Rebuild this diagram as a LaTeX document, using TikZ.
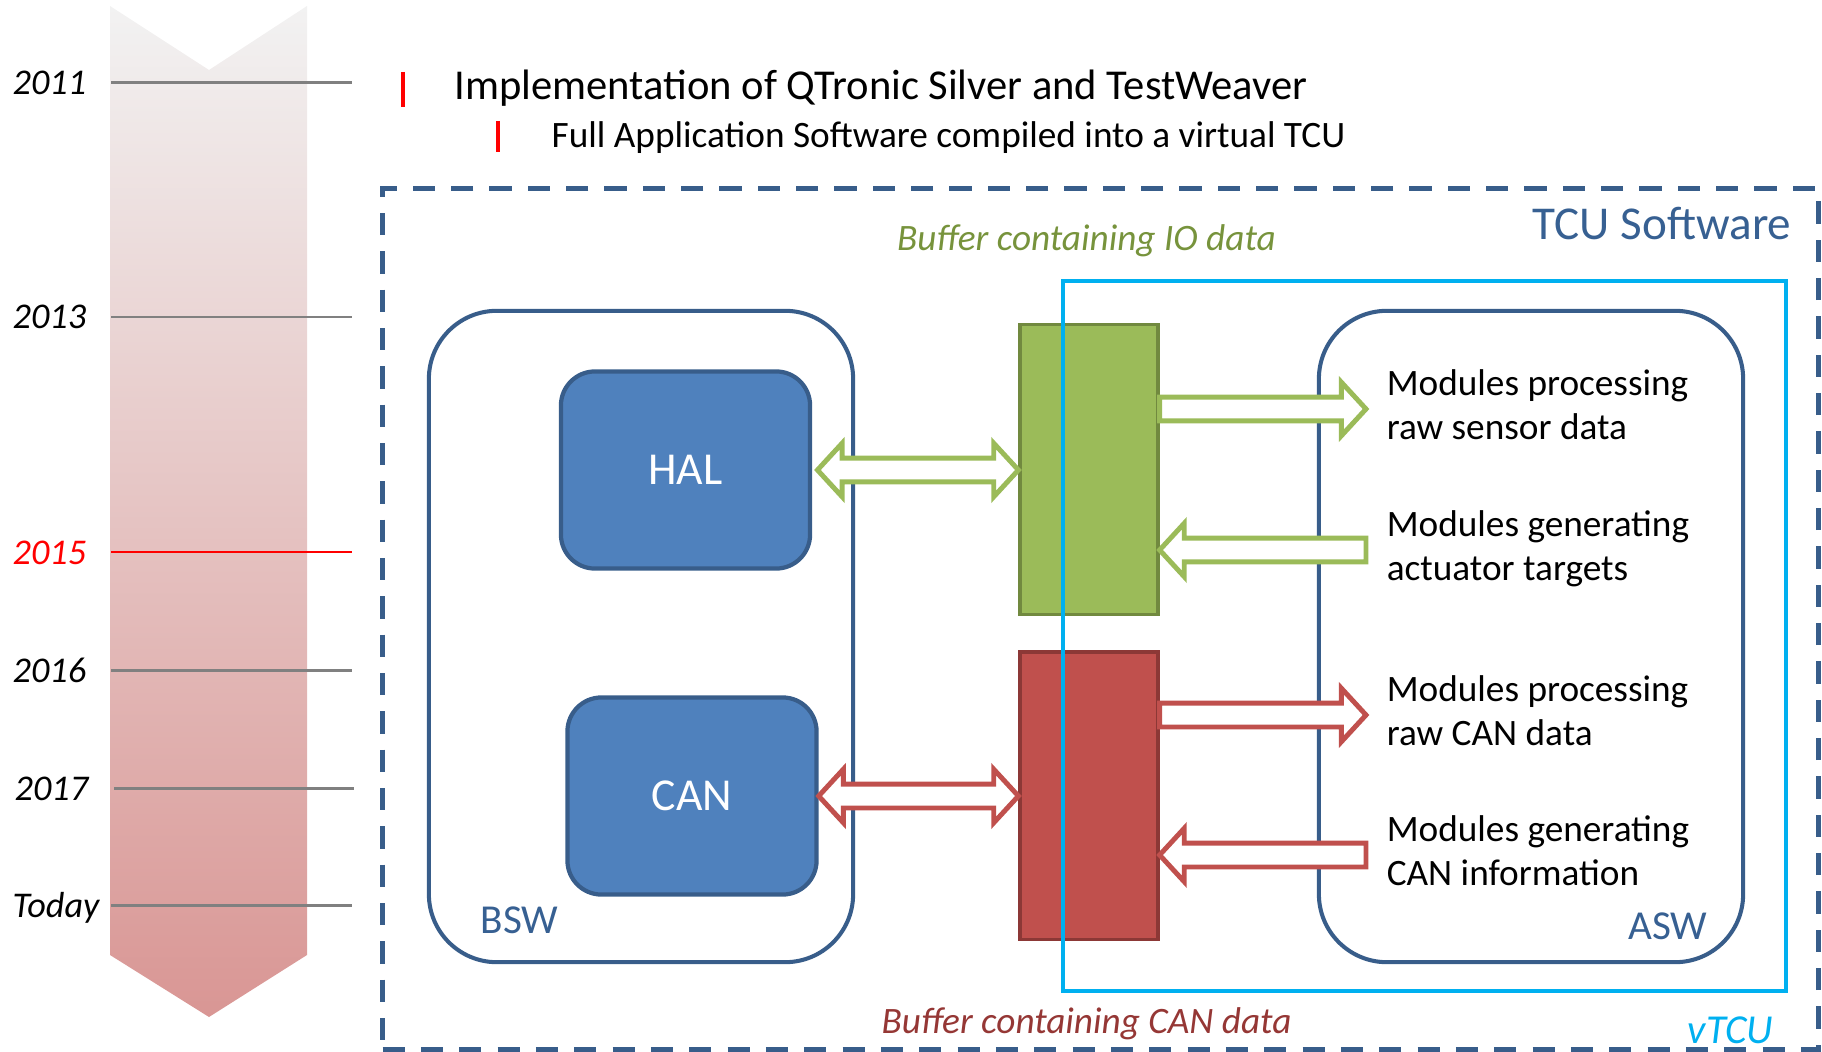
\documentclass[tikz,border=0pt]{standalone}
\usepackage{fontspec}
\setmainfont{Carlito}
\usetikzlibrary{calc,positioning}

\definecolor{tcublue}{RGB}{56,93,138}
\definecolor{tcutext}{RGB}{55,96,146}
\definecolor{halfill}{RGB}{79,129,189}
\definecolor{iogreen}{RGB}{155,187,89}
\definecolor{iogreendark}{RGB}{113,137,63}
\definecolor{iotext}{RGB}{119,147,60}
\definecolor{canred}{RGB}{192,80,77}
\definecolor{canreddark}{RGB}{140,56,54}
\definecolor{cantext}{RGB}{149,55,53}
\definecolor{vtcucyan}{RGB}{0,176,240}
\definecolor{timetop}{RGB}{242,242,242}
\definecolor{timebottom}{RGB}{217,150,148}

\tikzset{
	blockarrow/.style={draw=#1,line width=1.4pt,fill=white,to path={
		let \p1=(\tikztostart),\p2=(\tikztotarget),\n1={ifthenelse(\x2>\x1,-1,1)} in
		(\x1,{\y1+3.4pt}) -- ({\x2+7pt*(\n1)},{\y1+3.4pt}) -- ({\x2+7pt*(\n1)},{\y1+7.6pt}) -- (\x2,\y1)
		-- ({\x2+7pt*(\n1)},{\y1-7.6pt}) -- ({\x2+7pt*(\n1)},{\y1-3.4pt}) -- (\x1,{\y1-3.4pt}) -- cycle}},
	dblockarrow/.style={draw=#1,line width=1.4pt,fill=white,to path={
		let \p1=(\tikztostart),\p2=(\tikztotarget),\n1={ifthenelse(\x2>\x1,-1,1)} in
		(\x1,\y1) -- ({\x1-7pt*(\n1)},{\y1+7.6pt}) -- ({\x1-7pt*(\n1)},{\y1+3.4pt})
		-- ({\x2+7pt*(\n1)},{\y1+3.4pt}) -- ({\x2+7pt*(\n1)},{\y1+7.6pt}) -- (\x2,\y1)
		-- ({\x2+7pt*(\n1)},{\y1-7.6pt}) -- ({\x2+7pt*(\n1)},{\y1-3.4pt})
		-- ({\x1-7pt*(\n1)},{\y1-3.4pt}) -- ({\x1-7pt*(\n1)},{\y1-7.6pt}) -- cycle}},
	yearline/.style={draw=gray,line width=0.85pt},
	modules/.style={anchor=west,inner xsep=5.7pt,inner ysep=0pt,font=\fontsize{10.6}{12.5}\selectfont}
}

\begin{document}
	\begin{tikzpicture}[x=0.01cm,y=-0.01cm]
		\useasboundingbox (0,0) rectangle (1822,1052);

		\shade[top color=timetop,bottom color=timebottom] (110,6) -- (209,70) -- (307,6) -- (307,955) -- (209,1017) -- (110,955) -- cycle;
		\draw[yearline] (111,82.5) -- (352,82.5);
		\draw[yearline] (111,317) -- (352,317);
		\draw[yearline,draw=red] (111,552) -- (352,552);
		\draw[yearline] (111,670) -- (352,670);
		\draw[yearline] (114,788) -- (354,788);
		\draw[yearline] (111,905) -- (352,905);

		\begin{scope}[every node/.style={anchor=base west,inner sep=0pt,font=\fontsize{10.3}{12}\selectfont\itshape}]
			\node (y2011) at (12,95) {2011};
			\node (y2013) at (12,329) {2013};
			\node[text=red] (y2015) at (12,564) {2015};
			\node (y2016) at (12,682) {2016};
			\node (y2017) at (14,800) {2017};
			\node (today) at (12,917) {Today};
		\end{scope}

		\draw[red,line width=1.1pt] (403,72) -- (403,107);
		\draw[red,line width=1.1pt] (498,121) -- (498,152);
		\node[anchor=base west,inner sep=0pt,font=\fontsize{12.1}{14}\selectfont] (silver) at (454,100) {Implementation of QTronic Silver and TestWeaver};
		\node[anchor=base west,inner sep=0pt,font=\fontsize{10.6}{12.5}\selectfont] (fullasw) at (551,148) {Full Application Software compiled into a virtual TCU};

		\node[draw=tcublue,line width=1.3pt,dash pattern=on 6.3pt off 4.6pt,minimum width=14.35cm,minimum height=8.6cm] (tcusw) at (1100.5,619) {};

		\begin{scope}[every node/.style={draw=tcublue,line width=1.15pt,rounded corners=0.68cm,minimum width=4.24cm,minimum height=6.51cm}]
			\node (bsw) at (641,636.5) {};
			\node (asw) at (1531,636.5) {};
		\end{scope}

		\begin{scope}[every node/.style={draw=tcublue,fill=halfill,line width=1.2pt,rounded corners=0.34cm,minimum width=2.49cm,minimum height=1.97cm,text=white,font=\fontsize{13}{15}\selectfont}]
			\node (hal) at (685.5,470) {HAL};
			\node (can) at (692,796) {CAN};
		\end{scope}

		\node[draw=iogreendark,fill=iogreen,line width=0.9pt,minimum width=1.38cm,minimum height=2.89cm] (iobuffer) at (1089,469.5) {};
		\node[draw=canreddark,fill=canred,line width=0.9pt,minimum width=1.38cm,minimum height=2.87cm] (canbuffer) at (1089,795.5) {};

		\node[draw=vtcucyan,line width=1.2pt,minimum width=7.23cm,minimum height=7.1cm] (vtcu) at (1424.5,636) {};

		\node[modules] (sensor) at (1366,409) {\begin{tabular}{@{}l@{}}Modules processing\\raw sensor data\end{tabular}};
		\node[modules] (actuator) at (1366,550) {\begin{tabular}{@{}l@{}}Modules generating\\actuator targets\end{tabular}};
		\node[modules] (rawcan) at (1366,715) {\begin{tabular}{@{}l@{}}Modules processing\\raw CAN data\end{tabular}};
		\node[modules] (caninfo) at (1366,855) {\begin{tabular}{@{}l@{}}Modules generating\\CAN information\end{tabular}};

		\begin{scope}
			\path ([xshift=1.5pt]hal.east) edge[dblockarrow=iogreen] (iobuffer.west);
			\path (can.east) edge[dblockarrow=canred] (canbuffer.west);
			\path (iobuffer.east |- sensor.west) edge[blockarrow=iogreen] (sensor.west);
			\path (actuator.west) edge[blockarrow=iogreen] (iobuffer.east |- actuator.west);
			\path (canbuffer.east |- rawcan.west) edge[blockarrow=canred] (rawcan.west);
			\path (caninfo.west) edge[blockarrow=canred] (canbuffer.east |- caninfo.west);
		\end{scope}

		\begin{scope}[every node/.style={inner sep=0pt}]
			\node[anchor=base east,text=tcutext,font=\fontsize{13.4}{16}\selectfont] (tcusoftware) at (1792,240) {TCU Software};
			\node[anchor=base,text=iotext,font=\fontsize{10.6}{12.5}\selectfont\itshape] (iolabel) at (1086.5,251) {Buffer containing IO data};
			\node[anchor=base,text=cantext,font=\fontsize{10.6}{12.5}\selectfont\itshape] (canlabel) at (1086.5,1033) {Buffer containing CAN data};
			\node[anchor=base,text=vtcucyan,font=\fontsize{11.7}{14}\selectfont\itshape] (vtculabel) at (1730.5,1043) {vTCU};
			\node[anchor=base west,text=tcutext,font=\fontsize{11.7}{14}\selectfont] (bswlabel) at (480,933) {BSW};
			\node[anchor=base east,text=tcutext,font=\fontsize{11.7}{14}\selectfont] (aswlabel) at (1708,939) {ASW};
		\end{scope}
	\end{tikzpicture}
\end{document}
